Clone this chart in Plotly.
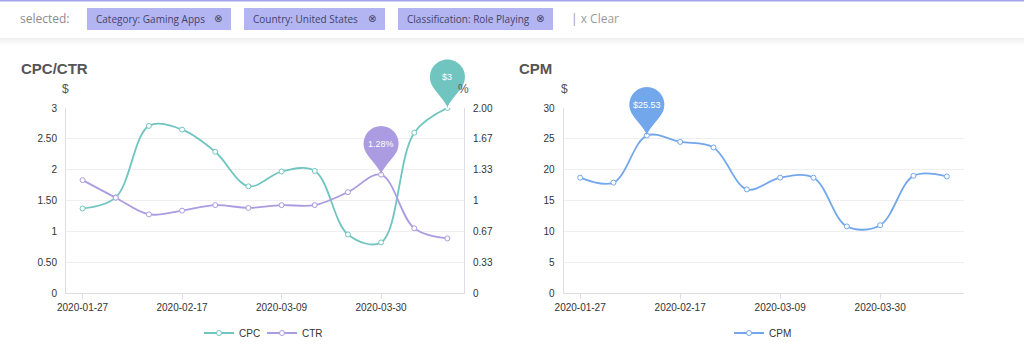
import math
import plotly.graph_objects as go

# ---------------- data ----------------
dates = ['2020-01-27', '2020-02-03', '2020-02-10', '2020-02-17', '2020-02-24', '2020-03-02',
         '2020-03-09', '2020-03-16', '2020-03-23', '2020-03-30', '2020-04-06', '2020-04-13']
cpc = [1.37, 1.55, 2.71, 2.65, 2.29, 1.73, 1.97, 1.98, 0.95, 0.82, 2.60, 3.00]
ctr = [1.22, 1.03, 0.85, 0.89, 0.95, 0.92, 0.95, 0.95, 1.09, 1.28, 0.70, 0.59]
cpm = [18.7, 17.9, 25.53, 24.5, 23.6, 16.8, 18.7, 18.7, 10.8, 11.0, 19.0, 18.9]

tick_dates = dates[::3]
cpc_range = [0, 3]
ctr_range = [0, 2]
cpm_range = [0, 30]
cpc_ticks = [0, 0.5, 1, 1.5, 2, 2.5, 3]
cpc_ticktext = ['0', '0.50', '1', '1.50', '2', '2.50', '3']
ctr_ticks = [0, 1 / 3, 2 / 3, 1, 4 / 3, 5 / 3, 2]
ctr_ticktext = ['0', '0.33', '0.67', '1', '1.33', '1.67', '2.00']
cpm_ticks = [0, 5, 10, 15, 20, 25, 30]
chips = ['Category: Gaming Apps', 'Country: United States', 'Classification: Role Playing']

# ---------------- style ----------------
W, H = 1024, 356
TEAL = '#70c5c1'
PURPLE = '#ab9be0'
BLUE = '#72a7ec'
AXIS = '#dddde8'
GRID = '#efeff2'
TXT = '#333333'
FONT = 'Liberation Sans, Arial, sans-serif'
UIFONT = 'Open Sans, sans-serif'


def px(x):
    return x / W


def py(y):
    return 1 - y / H


fig = go.Figure()


def line_trace(x, y, name, color, xa, ya, legend):
    return go.Scatter(
        x=x, y=y, name=name, mode='lines+markers',
        line=dict(color=color, width=1.8, shape='spline', smoothing=1),
        marker=dict(symbol='circle', size=5, color='white', line=dict(color=color, width=1)),
        xaxis=xa, yaxis=ya, legend=legend, hoverinfo='x+y')


fig.add_trace(line_trace(dates, cpc, 'CPC', TEAL, 'x', 'y', 'legend'))
fig.add_trace(line_trace(dates, ctr, 'CTR', PURPLE, 'x', 'y2', 'legend'))
fig.add_trace(line_trace(dates, cpm, 'CPM', BLUE, 'x2', 'y3', 'legend2'))

shapes = []
annotations = []

# ---------- top filter bar ----------
for i in range(8):
    shapes.append(dict(type='rect', xref='paper', yref='paper', x0=0, x1=1,
                       y0=py(39 + i), y1=py(38 + i),
                       fillcolor='rgba(0,0,0,%.3f)' % (0.06 * (1 - i / 8) ** 1.5),
                       line=dict(width=0), layer='below'))
shapes.append(dict(type='line', xref='paper', yref='paper', x0=0, x1=1, y0=py(0.8), y1=py(0.8),
                   line=dict(color='#a4a4ee', width=1.6)))

annotations.append(dict(x=px(18), y=py(19), xref='paper', yref='paper', xanchor='left',
                        yanchor='middle', text='selected:', showarrow=False,
                        font=dict(family=UIFONT, size=12, color='#8c8c8c')))
chip_x = [(87, 231), (244, 385), (398, 553)]
for (x0, x1), label in zip(chip_x, chips):
    shapes.append(dict(type='rect', xref='paper', yref='paper', x0=px(x0), x1=px(x1),
                       y0=py(30), y1=py(8), fillcolor='#b3b5f2', line=dict(width=0)))
    annotations.append(dict(x=px(x0 + 7), y=py(19), xref='paper', yref='paper',
                            xanchor='left', yanchor='middle', text=label, showarrow=False,
                            font=dict(family=UIFONT, size=10, color='#43436a')))
    annotations.append(dict(x=px(x1 - 13), y=py(19), xref='paper', yref='paper',
                            xanchor='center', yanchor='middle', text='⊗', showarrow=False,
                            font=dict(family='DejaVu Sans', size=10, color='#43436a')))
annotations.append(dict(x=px(569), y=py(19), xref='paper', yref='paper', xanchor='left',
                        yanchor='middle', text='| x Clear', showarrow=False,
                        font=dict(family=UIFONT, size=12, color='#9a9a9a')))

# ---------- titles and axis names ----------
for x, text in [(19, 'CPC/CTR'), (517, 'CPM')]:
    annotations.append(dict(x=px(x), y=py(69), xref='paper', yref='paper', xanchor='left',
                            yanchor='middle', text='<b>%s</b>' % text, showarrow=False,
                            font=dict(family=FONT, size=15, color='#555555')))
for x, text in [(65, '$'), (463, '%'), (564, '$')]:
    annotations.append(dict(x=px(x), y=py(89), xref='paper', yref='paper', xanchor='center',
                            yanchor='middle', text=text, showarrow=False,
                            font=dict(family=FONT, size=12, color='#555555')))


# ---------- pins (markPoint max) ----------
def pin_path(r=17.5, cy=31.0):
    a0 = math.atan2(-9.9, -14.4) + 2 * math.pi
    a1 = math.atan2(-9.9, 14.4)
    n = 48
    pts = []
    for k in range(n + 1):
        t = a0 + (a1 - a0) * k / n
        pts.append((r * math.cos(t), cy + r * math.sin(t)))
    lx, ly = pts[0]
    rx, ry = pts[-1]
    p = 'M 0 0 C -1 6 %.2f %.2f %.2f %.2f ' % (lx + 5, ly - 8, lx, ly)
    p += ' '.join('L %.2f %.2f' % q for q in pts[1:])
    p += ' C %.2f %.2f 1 6 0 0 Z' % (rx - 5, ry - 8)
    return p


PIN = pin_path()


def add_pin(vals, rng, xname, yname, color, label):
    i = max(range(len(vals)), key=lambda k: vals[k])
    # anchor in axis-domain fractions (domain refs are not clipped to the plot area)
    fx = (i + 0.5) / len(dates)
    fy = (vals[i] - rng[0]) / (rng[1] - rng[0])
    shapes.append(dict(type='path', xref=xname + ' domain', yref=yname + ' domain',
                       xsizemode='pixel', ysizemode='pixel', xanchor=fx, yanchor=fy,
                       path=PIN, fillcolor=color, line=dict(width=0)))
    annotations.append(dict(x=dates[i], y=vals[i], xref=xname, yref=yname, yshift=31,
                            text=label(vals[i]), showarrow=False,
                            font=dict(family=FONT, size=9, color='white')))


add_pin(cpc, cpc_range, 'x', 'y', TEAL, lambda v: '$%g' % v)
add_pin(ctr, ctr_range, 'x', 'y2', PURPLE, lambda v: '%.2f%%' % v)
add_pin(cpm, cpm_range, 'x2', 'y3', BLUE, lambda v: '$%.2f' % v)

# ---------- axes ----------
ydom = [py(293), py(108)]
xcommon = dict(type='category', categoryorder='array', categoryarray=dates,
               range=[-0.5, len(dates) - 0.5], tickmode='array', tickvals=tick_dates,
               ticks='outside', ticklen=5, tickcolor=AXIS, showline=True, linecolor=AXIS,
               linewidth=1, showgrid=False, zeroline=False,
               tickfont=dict(family=FONT, size=10, color=TXT), fixedrange=True)
ycommon = dict(showline=True, linecolor=AXIS, linewidth=1, zeroline=False, ticks='',
               tickfont=dict(family=FONT, size=10, color=TXT), ticklabelstandoff=6,
               domain=ydom, fixedrange=True)

fig.update_layout(
    width=W, height=H, margin=dict(l=0, r=0, t=0, b=0, autoexpand=False),
    paper_bgcolor='white', plot_bgcolor='rgba(0,0,0,0)',
    font=dict(family=FONT, color=TXT),
    xaxis=dict(domain=[px(66), px(464)], anchor='y', **xcommon),
    yaxis=dict(anchor='x', range=cpc_range, tickmode='array', tickvals=cpc_ticks,
               ticktext=cpc_ticktext, showgrid=True, gridcolor=GRID, gridwidth=1, **ycommon),
    yaxis2=dict(anchor='x', overlaying='y', side='right', range=ctr_range, tickmode='array',
                tickvals=ctr_ticks, ticktext=ctr_ticktext, showgrid=False, **ycommon),
    xaxis2=dict(domain=[px(563.5), px(963.5)], anchor='y3', **xcommon),
    yaxis3=dict(anchor='x2', range=cpm_range, tickmode='array', tickvals=cpm_ticks,
                showgrid=True, gridcolor=GRID, gridwidth=1, **ycommon),
    legend=dict(orientation='h', x=px(199), xanchor='left', y=py(333), yanchor='middle',
                font=dict(family=FONT, size=10, color=TXT), bgcolor='rgba(0,0,0,0)',
                entrywidth=18, entrywidthmode='pixels'),
    legend2=dict(orientation='h', x=px(729), xanchor='left', y=py(333), yanchor='middle',
                 font=dict(family=FONT, size=10, color=TXT), bgcolor='rgba(0,0,0,0)'),
    shapes=shapes, annotations=annotations, hovermode='closest')

fig.write_html('out.html', config={'displayModeBar': False},
               post_script="document.body.style.margin='0';document.body.style.overflow='hidden';")
